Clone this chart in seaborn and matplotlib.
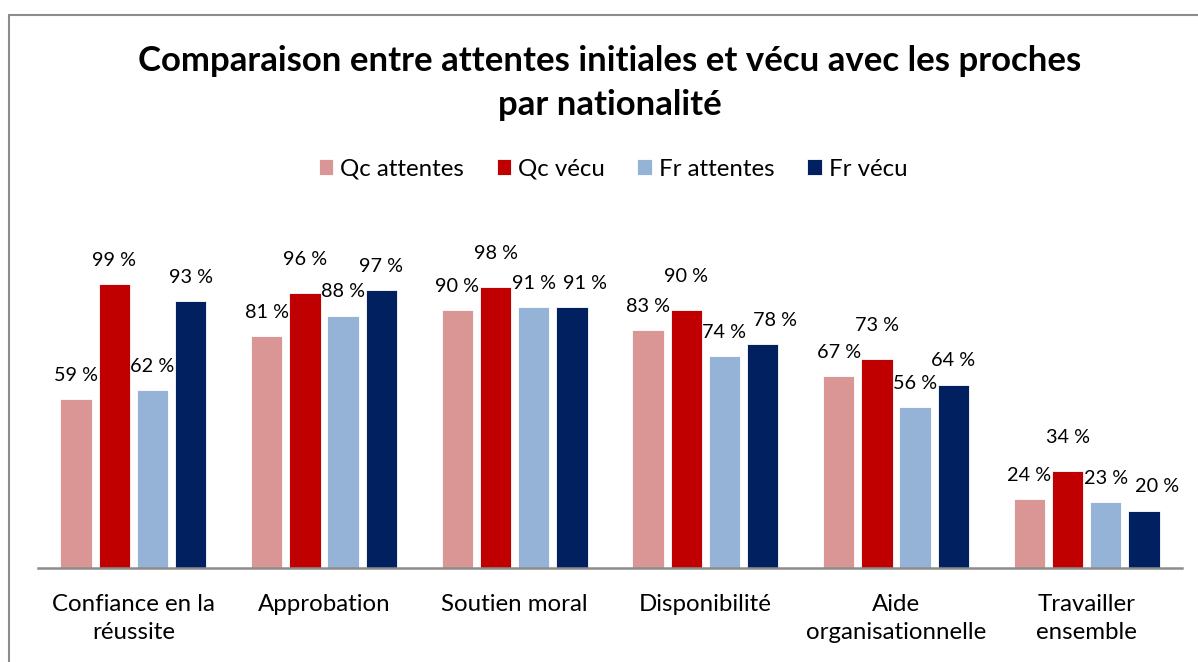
import matplotlib
matplotlib.use("Agg")
import matplotlib.pyplot as plt
from matplotlib.patches import Rectangle
import pandas as pd
import seaborn as sns

categories = ["Confiance en la\nréussite", "Approbation", "Soutien moral",
              "Disponibilité", "Aide\norganisationnelle", "Travailler\nensemble"]
series = ["Qc attentes", "Qc vécu", "Fr attentes", "Fr vécu"]
qc_attentes = [59, 81, 90, 83, 67, 24]
qc_vecu = [99, 96, 98, 90, 73, 34]
fr_attentes = [62, 88, 91, 74, 56, 23]
fr_vecu = [93, 97, 91, 78, 64, 20]
colors = ["#D99694", "#C00000", "#95B3D7", "#002060"]

values = [qc_attentes, qc_vecu, fr_attentes, fr_vecu]
df = pd.DataFrame(
    [(c, s, v) for s, vals in zip(series, values) for c, v in zip(categories, vals)],
    columns=["categorie", "serie", "valeur"],
)

sns.set_theme(style="white")
plt.rcParams["font.family"] = ["Lato", "DejaVu Sans"]
plt.rcParams["text.color"] = "black"

W, H = 1198, 662
fig = plt.figure(figsize=(W / 100, H / 100), dpi=100)
ax = fig.add_axes([38 / W, 1 - 568 / H, 1144 / W, 344 / H])

sns.barplot(data=df, x="categorie", y="valeur", hue="serie", hue_order=series,
            order=categories, palette=colors, width=0.8, gap=0.18,
            edgecolor="white", linewidth=0.6, saturation=1, ax=ax)

ax.set_ylim(0, 120)
ax.set_xlim(-0.5, len(categories) - 0.5)
ax.set_xlabel("")
ax.set_ylabel("")
ax.set_yticks([])
ax.tick_params(axis="x", length=0, pad=19, labelsize=17.3, colors="black")
for lbl in ax.get_xticklabels():
    lbl.set_linespacing(1.4)
for side in ["left", "right", "top"]:
    ax.spines[side].set_visible(False)
ax.spines["bottom"].set_color("#8C8C8C")
ax.spines["bottom"].set_linewidth(1.8)

# value labels above each bar
labels_by_group = [[] for _ in categories]
for si, container in enumerate(ax.containers):
    for ci, bar in enumerate(container):
        v = values[si][ci]
        lift = 11
        if series[si] == "Qc vécu" and ci > 0:
            lift = 18
        ann = ax.annotate(f"{v} %", (bar.get_x() + bar.get_width() / 2, bar.get_height()),
                          xytext=(0, lift), textcoords="offset points",
                          ha="center", va="bottom", fontsize=14.3, color="black")
        labels_by_group[ci].append(ann)

# push colliding labels to the right within each group
fig.canvas.draw()
renderer = fig.canvas.get_renderer()
for group in labels_by_group:
    for prev, cur in zip(group[:-1], group[1:]):
        b0 = prev.get_window_extent(renderer)
        b1 = cur.get_window_extent(renderer)
        if b1.x0 < b0.x1 + 5 and b1.y0 < b0.y1 and b0.y0 < b1.y1:
            shift_px = b0.x1 + 7 - b1.x0
            dx, dy = cur.xyann
            cur.xyann = (dx + shift_px * 72 / fig.dpi, dy)

handles, labels = ax.get_legend_handles_labels()
ax.legend_.remove()
fig.legend(handles, labels, loc="center", bbox_to_anchor=(613 / W, 1 - 169 / H),
           ncol=4, frameon=False, fontsize=17.3, handlelength=0.6, handleheight=0.6,
           handletextpad=0.3, columnspacing=1.35, labelcolor="black")

fig.text(610 / W, 1 - 83 / H, "Comparaison entre attentes initiales et vécu avec les proches\npar nationalité",
         ha="center", va="center", fontsize=25, fontweight="bold", linespacing=1.45,
         color="black")

fig.patches.append(Rectangle((9 / W, -0.05), 1.2, 1 - 15 / H + 0.05,
                             transform=fig.transFigure, fill=False,
                             edgecolor="#8C8C8C", linewidth=1.5))

fig.savefig("out.png", dpi=100)
